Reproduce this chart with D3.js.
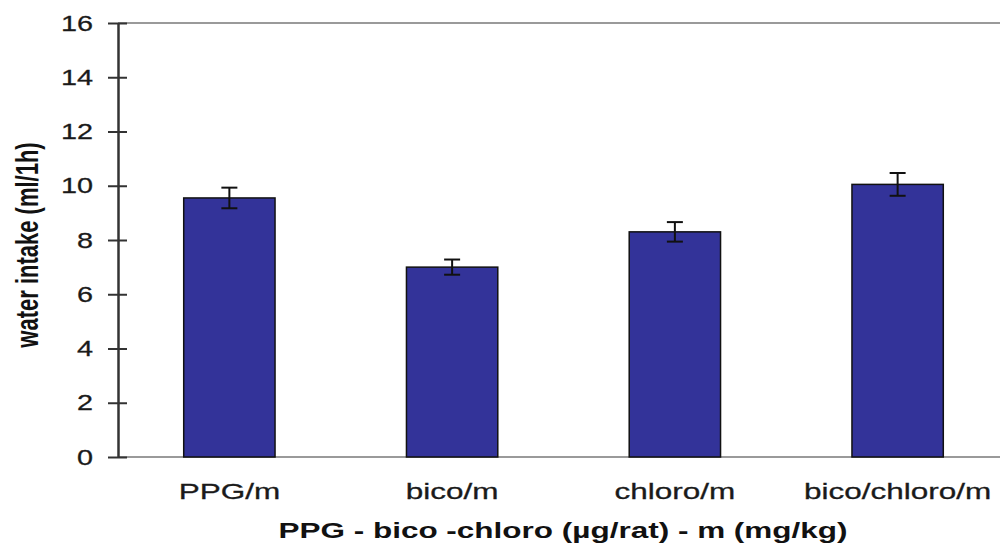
<!DOCTYPE html>
<html>
<head>
<meta charset="utf-8">
<script src="https://cdn.jsdelivr.net/npm/d3@7"></script>
<style>
  html, body { margin: 0; padding: 0; background: #fff; }
  svg { display: block; }
</style>
</head>
<body>
<svg id="chart" width="1000" height="544"></svg>
<script>
// Water intake per treatment group (mean ± SEM)
const categories = ["PPG/m", "bico/m", "chloro/m", "bico/chloro/m"];
const intake = [9.55, 7.0, 8.3, 10.05];
const sem = [0.38, 0.28, 0.36, 0.42];
const yTicks = [0, 2, 4, 6, 8, 10, 12, 14, 16];

const svg = d3.select("#chart");
const plotLeft = 118, plotRight = 1009, plotTop = 23, plotBottom = 457;
const font = "Liberation Sans, Arial, sans-serif";
const sx = 1.4; // wide text style

const x = d3.scaleBand().domain(categories).range([plotLeft, plotRight]).paddingInner(0.59).paddingOuter(0.295);
const y = d3.scaleLinear().domain([0, 16]).range([plotBottom, plotTop]);

// plot frame lines (top and bottom)
svg.append("line").attr("x1", plotLeft).attr("x2", 1000).attr("y1", plotTop).attr("y2", plotTop)
  .attr("stroke", "#9a9a9a").attr("stroke-width", 2);
svg.append("line").attr("x1", plotLeft).attr("x2", 1000).attr("y1", plotBottom).attr("y2", plotBottom)
  .attr("stroke", "#9a9a9a").attr("stroke-width", 2);

// bars
svg.append("g").selectAll("rect").data(categories).join("rect")
  .attr("x", d => x(d))
  .attr("width", x.bandwidth())
  .attr("y", (d, i) => y(intake[i]))
  .attr("height", (d, i) => y(0) - y(intake[i]))
  .attr("fill", "#333399")
  .attr("stroke", "#111")
  .attr("stroke-width", 1.5);

// error bars
const eb = svg.append("g").attr("stroke", "#111").attr("stroke-width", 2);
categories.forEach((c, i) => {
  const cx = x(c) + x.bandwidth() / 2;
  const y1 = y(intake[i] + sem[i]), y2 = y(intake[i] - sem[i]);
  eb.append("line").attr("x1", cx).attr("x2", cx).attr("y1", y1).attr("y2", y2);
  eb.append("line").attr("x1", cx - 8).attr("x2", cx + 8).attr("y1", y1).attr("y2", y1);
  eb.append("line").attr("x1", cx - 8).attr("x2", cx + 8).attr("y1", y2).attr("y2", y2);
});

// y axis
const yAxis = d3.axisLeft(y).tickValues(yTicks).tickSize(0).tickPadding(25);
const gy = svg.append("g").attr("transform", `translate(${plotLeft},0)`).call(yAxis);
gy.select(".domain").attr("stroke", "#333").attr("stroke-width", 2.5);
gy.selectAll(".tick").append("line").attr("x1", -10).attr("x2", 9)
  .attr("stroke", "#333").attr("stroke-width", 2);
gy.selectAll(".tick text")
  .attr("font-family", font)
  .attr("font-size", 22.5).attr("fill", "#1a1a1a")
  .attr("stroke", "#1a1a1a").attr("stroke-width", 0.3)
  .attr("x", -25 / 1.28)
  .attr("transform", "scale(1.28,1)");

// x axis labels
const xAxis = d3.axisBottom(x).tickSize(0).tickPadding(26);
const gx = svg.append("g").attr("transform", `translate(0,${plotBottom})`).call(xAxis);
gx.select(".domain").remove();
gx.selectAll(".tick text")
  .attr("font-family", font)
  .attr("font-size", 22.5).attr("fill", "#1a1a1a")
  .attr("stroke", "#1a1a1a").attr("stroke-width", 0.3)
  .attr("transform", `scale(${sx},1)`);

// axis titles
svg.append("text")
  .attr("transform", `translate(563,538) scale(${sx},1)`)
  .attr("text-anchor", "middle")
  .attr("font-family", font)
  .attr("font-weight", "bold").attr("font-size", 22.5).attr("fill", "#111")
  .text("PPG - bico -chloro (µg/rat) - m (mg/kg)");

svg.append("text")
  .attr("transform", `translate(38,245) scale(${sx},1) rotate(-90)`)
  .attr("text-anchor", "middle")
  .attr("font-family", font)
  .attr("font-weight", "bold").attr("font-size", 22).attr("fill", "#111")
  .text("water intake (ml/1h)");
</script>
</body>
</html>
